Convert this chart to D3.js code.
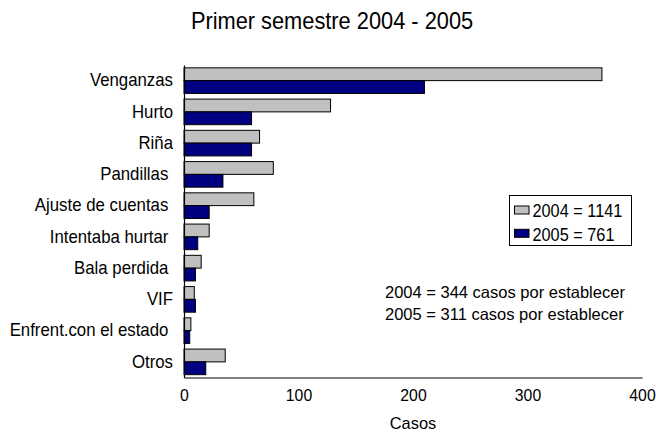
<!DOCTYPE html>
<html>
<head>
<meta charset="utf-8">
<script src="https://cdn.jsdelivr.net/npm/d3@7"></script>
<style>
  html, body { margin: 0; padding: 0; background: #fff; }
  svg { display: block; font-family: "Liberation Sans", Arial, sans-serif; }
  text { white-space: pre; fill: #000; }
</style>
</head>
<body>
<svg id="chart" width="656" height="435"></svg>
<script>
// Homicide motives, first half of 2004 vs 2005
const categories = [
  "Venganzas", "Hurto", "Riña", "Pandillas ", "Ajuste de cuentas ",
  "Intentaba hurtar ", "Bala perdida ", "VIF", "Enfrent.con el estado ", "Otros"
];
const values2004 = [365, 128, 66, 78, 61, 22, 15, 9, 6, 36];
const values2005 = [210, 59, 59, 34, 22, 12, 10, 10, 5, 19];
const xTicks = [0, 100, 200, 300, 400];
const legendLabels = ["2004 = 1141", "2005 = 761"];
const notes = ["2004 = 344 casos por establecer", "2005 = 311 casos por establecer"];
const titleText = "Primer semestre 2004 - 2005";
const axisTitle = "Casos";

const colors = ["#c0c0c0", "#000080"];
const svg = d3.select("#chart");

const x = d3.scaleLinear().domain([0, 400]).range([184, 642]);
const y = d3.scaleBand().domain(categories).range([65, 377.5]);
const barH = 12.8;
const pad = (y.bandwidth() - 2 * barH) / 2;

// Title
svg.append("text")
  .attr("transform", "translate(332,29.3) scale(1,1.09)")
  .attr("text-anchor", "middle")
  .style("font-size", "21.8px")
  .text(titleText);

// Bars
const series = [values2004, values2005];
series.forEach((vals, si) => {
  svg.append("g")
    .selectAll("rect")
    .data(categories.map((c, i) => ({ c, v: vals[i] })))
    .join("rect")
    .attr("x", x(0))
    .attr("y", d => y(d.c) + pad + si * barH)
    .attr("width", d => x(d.v) - x(0))
    .attr("height", barH)
    .attr("fill", colors[si])
    .attr("stroke", "#000")
    .attr("stroke-width", 1);
});

// Category axis
const yAxis = svg.append("g")
  .attr("transform", `translate(${x(0)},0)`)
  .call(d3.axisLeft(y).tickSize(0).tickPadding(11).tickSizeOuter(0));
yAxis.select(".domain").attr("stroke", "#000").attr("stroke-width", 1.2);
yAxis.selectAll("text")
  .style("font-size", "16.8px")
  .attr("font-family", null)
  .attr("fill", "#000")
  .attr("transform", "scale(1,1.09)");

// Value axis
const xAxis = svg.append("g")
  .attr("transform", "translate(0,377.5)")
  .call(d3.axisBottom(x).tickValues(xTicks).tickSize(0).tickPadding(12.5).tickSizeOuter(0));
xAxis.select(".domain").attr("stroke", "#000").attr("stroke-width", 1.2);
xAxis.selectAll("text")
  .style("font-size", "15.8px")
  .attr("font-family", null)
  .attr("fill", "#000");

svg.append("text")
  .attr("x", (x.range()[0] + x.range()[1]) / 2)
  .attr("y", 429.3)
  .attr("text-anchor", "middle")
  .style("font-size", "16.4px")
  .text(axisTitle);

// Legend
const legend = svg.append("g");
legend.append("rect")
  .attr("x", 509.5).attr("y", 195.5)
  .attr("width", 122).attr("height", 50)
  .attr("fill", "#fff").attr("stroke", "#000").attr("stroke-width", 1);
legendLabels.forEach((label, i) => {
  const rowY = 210 + i * 23.3;
  legend.append("rect")
    .attr("x", 514.5).attr("y", rowY - 4)
    .attr("width", 14.5).attr("height", 8)
    .attr("fill", colors[i]).attr("stroke", "#000").attr("stroke-width", 1);
  legend.append("text")
    .attr("transform", `translate(532.5,${rowY + 7.3}) scale(1,1.18)`)
    .style("font-size", "16.3px")
    .text(label);
});

// Notes
notes.forEach((n, i) => {
  svg.append("text")
    .attr("x", 385)
    .attr("y", 298 + i * 22)
    .style("font-size", "16.5px")
    .text(n);
});
</script>
</body>
</html>
